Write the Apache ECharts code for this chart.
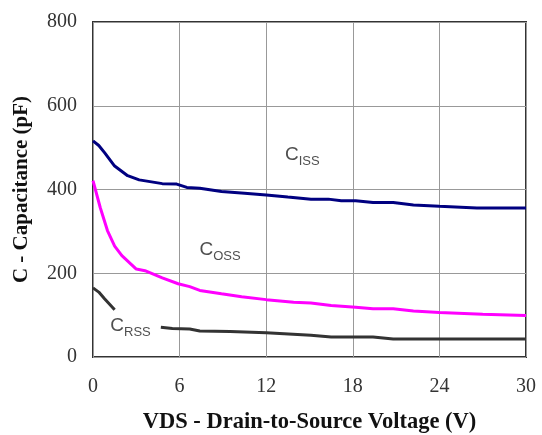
<!DOCTYPE html>
<html><head><meta charset="utf-8">
<script src="https://cdn.jsdelivr.net/npm/echarts@6/dist/echarts.min.js"></script>
<style>html,body{margin:0;padding:0;background:#fff}#c{width:542px;height:435px}</style>
</head><body><div id="c"></div>
<script>
const xTicks = [0, 6, 12, 18, 24, 30];
const yTicks = [0, 200, 400, 600, 800];
const cissV = [0, 0.4, 0.8, 1.5, 2.4, 3.2, 4.8, 5.8, 6.5, 7.4, 8.9, 10.5, 12, 13.5, 15.1, 16.3, 17.2, 18.2, 19.4, 20.8, 22.2, 24, 26.6, 30];
const cissC = [516, 505, 488, 456, 433, 423, 414, 413, 405, 403, 395, 391, 387, 382, 377, 377, 373, 373, 369, 369, 363, 360, 356, 356];
const cossV = [0, 0.5, 1.0, 1.5, 2.0, 3.0, 3.6, 4.8, 5.9, 6.7, 7.4, 8.9, 10.3, 12, 13.9, 15.1, 16.5, 18.2, 19.4, 20.8, 22.2, 24, 27, 30];
const cossC = [421, 357, 302, 265, 242, 210, 206, 189, 175, 168, 159, 151, 144, 137, 131, 129, 123, 119, 115, 115, 110, 106, 102, 99];
const crssV = [0, 0.4, 0.8, 1.5, 1.6, 4.7, 5.5, 6.7, 7.4, 9.5, 12, 15.1, 16.5, 19.4, 20.8, 30];
const crssC = [165, 155, 139, 113, null, 71, 68, 67, 62, 61, 58, 52, 48, 48, 43, 43];
const labelNames = ['C|ISS', 'C|OSS', 'C|RSS'];
const labelPos = [[14.5, 478], [8.8, 252], [2.6, 70]];

const pair = (xs, ys) => xs.map((x, i) => [x, ys[i]]);
const chart = echarts.init(document.getElementById('c'));
const serif = '"Liberation Serif", "Times New Roman", serif';
chart.setOption({
  animation: false,
  grid: { left: 93, right: 16, top: 22, bottom: 78, containLabel: false, outerBoundsMode: 'none', show: true, borderColor: '#333', borderWidth: 2 },
  xAxis: {
    type: 'value', min: 0, max: 30, interval: 6,
    axisLine: { show: false }, axisTick: { show: false },
    splitLine: { show: true, lineStyle: { color: '#999', width: 1 } },
    axisLabel: { color: '#333', fontFamily: serif, fontSize: 20, margin: 20 },
    name: 'VDS - Drain-to-Source Voltage (V)', nameLocation: 'middle', nameGap: 54,
    nameTextStyle: { color: '#111', fontFamily: serif, fontWeight: 'bold', fontSize: 22.5 }
  },
  yAxis: {
    type: 'value', min: 0, max: 800, interval: 200,
    axisLine: { show: false }, axisTick: { show: false },
    splitLine: { show: true, lineStyle: { color: '#999', width: 1 } },
    axisLabel: { color: '#333', fontFamily: serif, fontSize: 20, margin: 16 },
    name: 'C - Capacitance (pF)', nameLocation: 'middle', nameGap: 61,
    nameTextStyle: { color: '#111', fontFamily: serif, fontWeight: 'bold', fontSize: 21 }
  },
  series: [
    { type: 'line', data: pair(cissV, cissC), showSymbol: false, lineStyle: { color: '#000080', width: 3 } },
    { type: 'line', data: pair(cossV, cossC), showSymbol: false, lineStyle: { color: '#ff00ff', width: 3 } },
    { type: 'line', data: pair(crssV, crssC), showSymbol: false, connectNulls: false, lineStyle: { color: '#333', width: 3 } },
    {
      type: 'scatter', symbolSize: 0, silent: true,
      data: labelPos.map((p, i) => ({ value: p, name: labelNames[i] })),
      label: {
        show: true, position: 'inside',
        formatter: p => { const s = p.name.split('|'); return '{c|' + s[0] + '}{s|' + s[1] + '}'; },
        rich: {
          c: { fontFamily: '"Liberation Sans", Arial, sans-serif', fontSize: 19, color: '#222', verticalAlign: 'bottom', padding: [0, 0, 4, 0] },
          s: { fontFamily: '"Liberation Sans", Arial, sans-serif', fontSize: 13, color: '#222', verticalAlign: 'bottom', padding: [0, 0, 0, 0] }
        }
      }
    }
  ]
});
</script></body></html>
